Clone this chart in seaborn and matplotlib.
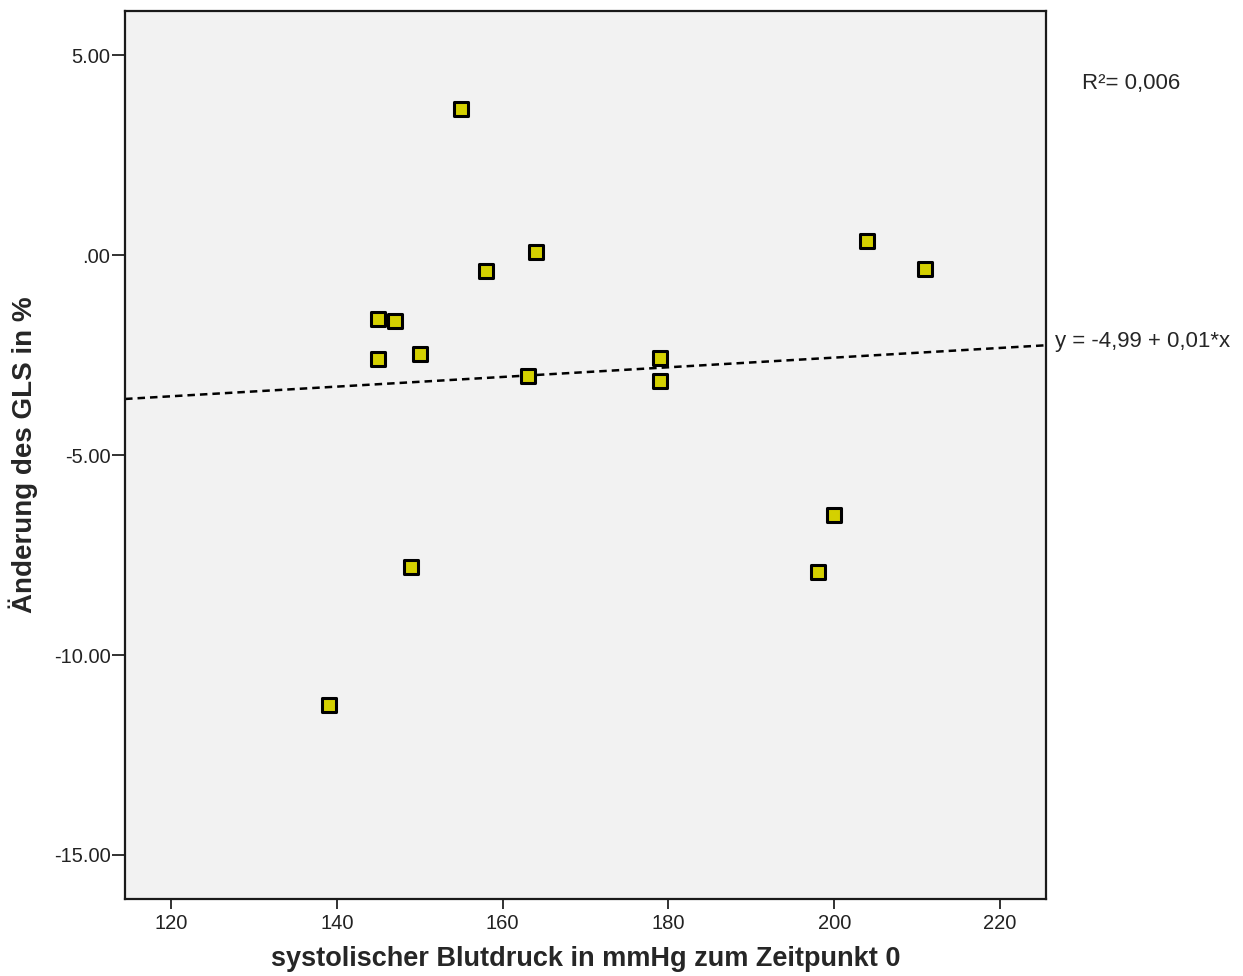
import numpy as np
import pandas as pd
import matplotlib
matplotlib.use("Agg")
import matplotlib.pyplot as plt
import seaborn as sns

# Data
sbp = [139, 145, 145, 147, 149, 150, 155, 158, 163, 164, 179, 179, 198, 200, 204, 211]
gls_change = [-11.25, -1.60, -2.60, -1.65, -7.80, -2.48, 3.65, -0.40, -3.03, 0.07,
              -2.58, -3.15, -7.93, -6.50, 0.35, -0.35]
x_ticks = [120, 140, 160, 180, 200, 220]
y_ticks = [5, 0, -5, -10, -15]
y_ticklabels = ["5.00", ".00", "-5.00", "-10.00", "-15.00"]
x_label = "systolischer Blutdruck in mmHg zum Zeitpunkt 0"
y_label = "Änderung des GLS in %"
r2_text = "R²= 0,006"
eq_text = "y = -4,99 + 0,01*x"

df = pd.DataFrame({"sbp": sbp, "gls": gls_change})

sns.set_style("white")
plt.rcParams["font.family"] = ["Liberation Sans", "DejaVu Sans"]

fig = plt.figure(figsize=(12.43, 9.76), dpi=100)
ax = fig.add_axes([0.1006, 0.0789, 0.7413, 0.9098])
ax.set_facecolor("#f2f2f2")
ax.set_xlim(114.45, 225.6)
ax.set_ylim(-16.1, 6.1)

sns.regplot(data=df, x="sbp", y="gls", ax=ax, ci=None, truncate=False,
            scatter=False,
            line_kws=dict(color="black", lw=1.8, linestyle=(0, (3, 2))))
sns.scatterplot(data=df, x="sbp", y="gls", ax=ax, marker="s", s=100,
                color="#d4d000", edgecolor="black", linewidth=2.2, zorder=3)

ax.set_xticks(x_ticks)
ax.set_yticks(y_ticks)
ax.set_yticklabels(y_ticklabels)
ax.tick_params(direction="out", width=1.3, colors="#222222",
               labelsize=14.5, left=True, bottom=True, labelcolor="#222222")
ax.tick_params(axis="x", length=7.5, pad=3)
ax.tick_params(axis="y", length=9.5, pad=1)
for sp in ax.spines.values():
    sp.set_linewidth(1.6)
    sp.set_color("#1a1a1a")

ax.set_xlabel(x_label, fontsize=19.5, fontweight="bold", labelpad=10)
ax.set_ylabel(y_label, fontsize=20, fontweight="bold", labelpad=11)

fig.text(1082 / 1243, 1 - 83 / 976, r2_text, fontsize=16, ha="left", va="center")
fig.text(1055 / 1243, 1 - 341 / 976, eq_text, fontsize=16, ha="left", va="center")

fig.savefig("out.png", dpi=100)
